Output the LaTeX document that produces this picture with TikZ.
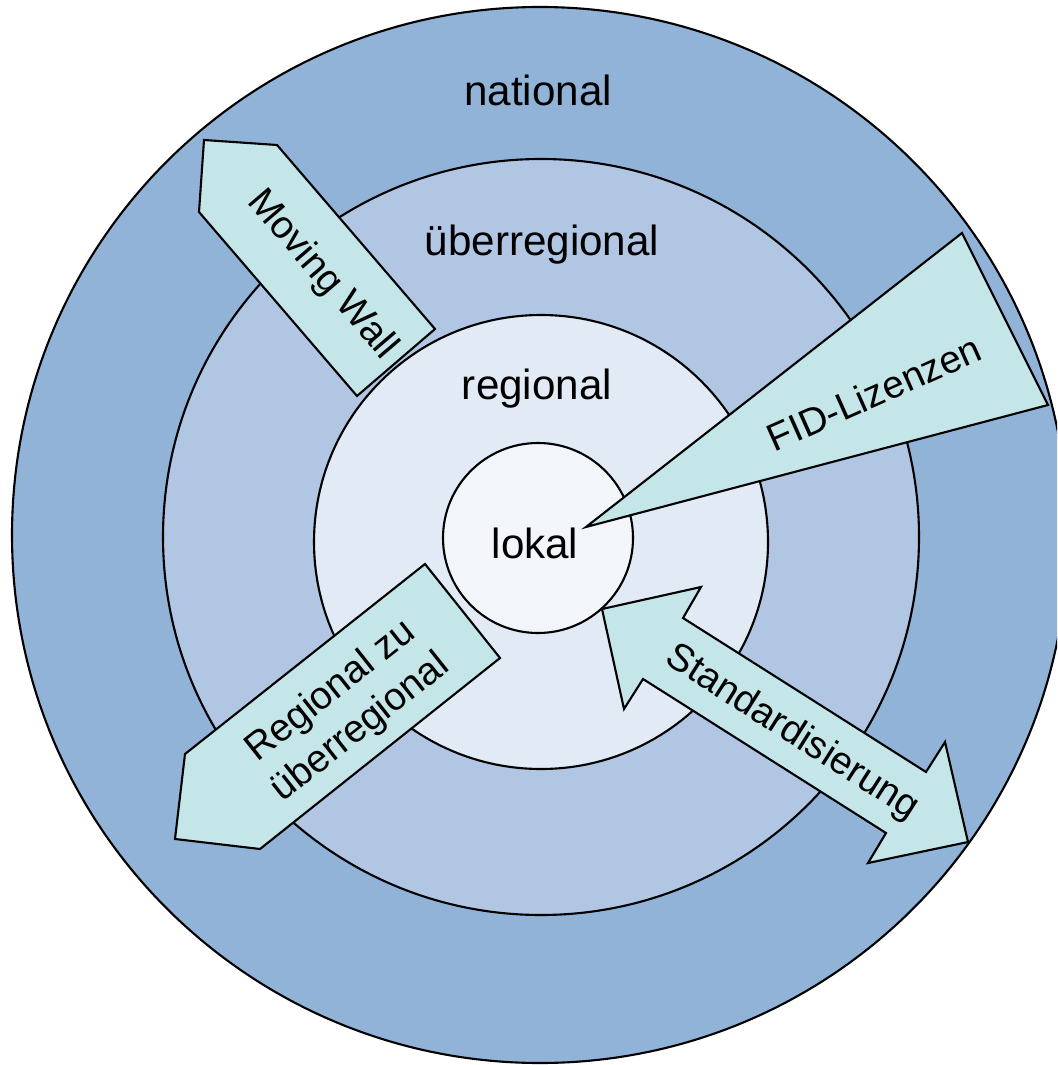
\documentclass[tikz,border=0pt]{standalone}
\usepackage{fontspec}
\setmainfont{Liberation Sans}
\usetikzlibrary{shapes}
\definecolor{nationalblau}{RGB}{146,179,216}
\definecolor{ueberblau}{RGB}{176,198,227}
\definecolor{regionalblau}{RGB}{226,234,245}
\definecolor{lokalblau}{RGB}{242,246,251}
\definecolor{pfeilgruen}{RGB}{196,230,232}
\tikzset{pfeil/.style={draw, fill=pfeilgruen, line width=0.6pt, line join=miter}}
\newcommand{\ebene}[4] {\node at (#1) (#2) [circle, draw, line width=0.6pt, fill=#3, minimum size=#4] {};}
\newcommand{\ebenentext}[3] {\node at (#1) (#2) [anchor=base, inner sep=0pt, font=\fontsize{12}{14}\selectfont] {#3};}
\newcommand{\pfeiltext}[4] {\node at (#1) (#2) [rotate=#3, align=center, inner sep=0pt, font=\fontsize{11}{13.3}\selectfont] {#4};}

\begin{document}
\begin{tikzpicture}[x=0.1mm, y=-0.1mm]

\clip (0,0) rectangle (1057,1065);

\ebene {540,535}{national}{nationalblau}{10.56cm}
\ebene {541,537}{ueberregional}{ueberblau}{7.56cm}
\ebene {541,542}{regional}{regionalblau}{4.54cm}
\ebene {538,538}{lokal}{lokalblau}{1.90cm}

\draw [pfeil] (204,140) -- (277,145) -- (435,329) -- (357,396) -- (199,212) -- cycle;
\draw [pfeil] (586,527) -- (962,233) -- (1048,405) -- cycle;
\draw [pfeil] (602,609) -- (701,587) -- (683,618) -- (926,772) -- (945,742)
  -- (968,842) -- (868,863) -- (886,833) -- (643,679) -- (624,709) -- cycle;
\draw [pfeil] (425,564) -- (500,658) -- (260,849) -- (175,839) -- (185,754) -- cycle;

\ebenentext {538,106}{nationaltext}{national}
\ebenentext {542,256}{ueberregionaltext}{überregional}
\ebenentext {537,400}{regionaltext}{regional}
\ebenentext {535,558}{lokaltext}{lokal}

\pfeiltext {322,275}{movingwall}{-49.4}{Moving Wall}
\pfeiltext {874,393}{fid}{24}{FID-Lizenzen}
\pfeiltext {792,733}{standard}{-32.5}{Standardisierung}
\pfeiltext {346,710}{regionalzu}{38.4}{Regional zu\\überregional}

\end{tikzpicture}
\end{document}
